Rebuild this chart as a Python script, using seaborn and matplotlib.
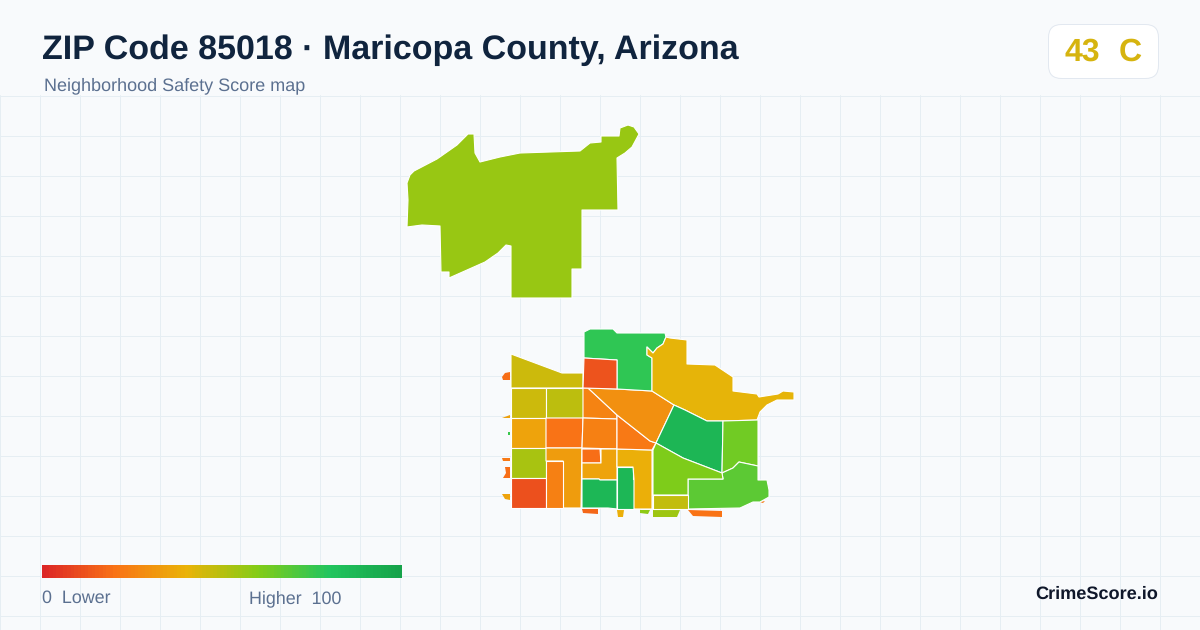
import matplotlib
matplotlib.use("Agg")
import matplotlib.pyplot as plt
from matplotlib.collections import PolyCollection
from matplotlib.colors import Normalize
from matplotlib.patches import FancyBboxPatch
import numpy as np
import seaborn as sns

# Text
title = "ZIP Code 85018 · Maricopa County, Arizona"
subtitle = "Neighborhood Safety Score map"
badge_score = "43"
badge_grade = "C"
brand = "CrimeScore.io"
legend_low = "0  Lower"
legend_high = "Higher  100"

# Score colour scale
scale_min, scale_max = 0, 100
scale_colors = ["#dc2626", "#f97316", "#eab308", "#84cc16", "#22c55e", "#16a34a"]

# Tract outlines
north_outlines = [
    [(407, 227), (408, 200), (407, 183), (410, 175), (414, 171), (437, 159), (457, 145), (468, 134), (474, 134),
     (475, 153), (480, 162), (500, 157), (520, 153), (580, 151), (590, 143), (601, 142), (601, 136),
     (619, 136), (620, 128), (628, 125), (634, 127), (639, 134), (632, 147), (625, 153), (617, 158), (618, 210),
     (582, 210), (582, 269), (572, 269), (572, 298), (511, 298), (511, 246), (506, 245), (498, 253),
     (485, 262), (449, 278), (449, 272), (441, 272), (440, 226), (422, 225)],
]
north_scores = [56]

south_outlines = [
    [(511, 354), (562, 373), (583, 373), (583, 388), (511, 388)],
    [(511, 388), (546, 388), (546, 418), (511, 418)],
    [(546, 388), (583, 388), (583, 418), (546, 418)],
    [(511, 418), (546, 418), (546, 448), (511, 448)],
    [(546, 418), (583, 418), (582, 448), (546, 448)],
    [(511, 448), (546, 448), (546, 478), (511, 478)],
    [(511, 478), (546, 478), (546, 508), (511, 508)],
    [(546, 448), (582, 448), (581, 508), (563, 508), (563, 461), (546, 461)],
    [(546, 461), (563, 461), (563, 508), (546, 508)],
    [(583, 388), (588, 388), (617, 415), (617, 419), (583, 418)],
    [(583, 418), (617, 419), (617, 449), (582, 448)],
    [(582, 449), (600, 449), (601, 463), (582, 463)],
    [(582, 463), (601, 463), (601, 449), (617, 449), (617, 480), (600, 480), (599, 479), (582, 479)],
    [(582, 479), (599, 479), (600, 480), (617, 480), (617, 509), (608, 508), (582, 508)],
    [(617, 467), (633, 467), (633, 479), (634, 479), (634, 509), (617, 509)],
    [(617, 449), (652, 450), (652, 509), (634, 509), (634, 479), (633, 467), (617, 467)],
    [(617, 415), (650, 441), (656, 443), (652, 450), (617, 449)],
    [(588, 388), (617, 389), (652, 391), (674, 405), (656, 443), (650, 441), (617, 415)],
    [(584, 332), (590, 329), (613, 329), (617, 333), (665, 333), (666, 337), (663, 344), (657, 348),
     (653, 353), (647, 347), (647, 355), (652, 358), (652, 391), (617, 389), (617, 360), (584, 358)],
    [(584, 358), (617, 360), (617, 389), (583, 388)],
    [(666, 337), (670, 338), (687, 340), (687, 364), (715, 365), (733, 377), (733, 391), (757, 394),
     (759, 397), (778, 394), (783, 391), (794, 392), (794, 400), (777, 400), (767, 405), (760, 412),
     (757, 420), (723, 421), (707, 421), (685, 410), (674, 405), (652, 391), (652, 358), (647, 355),
     (647, 347), (653, 353), (657, 348), (663, 344)],
    [(674, 405), (685, 410), (707, 421), (723, 421), (722, 473), (683, 458), (656, 443)],
    [(723, 421), (758, 420), (758, 466), (739, 462), (733, 468), (722, 473)],
    [(722, 473), (733, 468), (739, 462), (758, 466), (758, 480), (767, 480), (769, 490), (769, 497), (760, 502),
     (753, 502), (740, 508), (688, 509), (688, 479), (723, 479)],
    [(656, 443), (683, 458), (722, 473), (723, 479), (688, 479), (688, 495), (653, 495), (653, 450)],
    [(653, 495), (688, 495), (688, 509), (653, 509)],
]
south_scores = [46, 46, 49, 35, 20, 53, 11, 33, 24, 25, 24, 19, 35, 88, 88, 39, 22, 29, 77, 12, 41, 89, 64, 68, 61, 48]

# Slivers of tracts at the edge of the ZIP
sliver_outlines = [
    [(653, 510), (680, 510), (677, 517), (653, 517)],
    [(688, 510), (722, 511), (722, 517), (693, 516)],
    [(640, 510), (650, 510), (648, 514), (640, 513)],
    [(582, 509), (598, 509), (598, 514), (583, 513)],
    [(617, 510), (624, 510), (623, 517), (618, 517)],
    [(502, 377), (505, 373), (510, 372), (510, 380), (503, 380)],
    [(502, 418), (510, 415), (510, 418)],
    [(502, 458), (510, 458), (510, 461), (503, 461)],
    [(505, 467), (510, 467), (510, 478), (503, 478), (506, 473)],
    [(502, 494), (510, 494), (510, 500), (505, 499)],
    [(508, 432), (510, 432), (510, 435), (508, 435)],
    [(760, 502), (765, 501), (763, 503)],
]
sliver_scores = [55, 20, 58, 17, 39, 19, 34, 22, 19, 35, 75, 22]

sns.set_theme(style="white")
plt.rcParams["font.family"] = ["Liberation Sans", "DejaVu Sans"]
plt.rcParams["text.hinting"] = "no_hinting"

score_cmap = sns.blend_palette(scale_colors, as_cmap=True)
score_norm = Normalize(scale_min, scale_max)

fig = plt.figure(figsize=(12, 6.3), dpi=100, facecolor="#f8fafc")

# Map area, with the light grid below the header
ax = fig.add_axes([0, 0, 1, (630 - 95) / 630])
ax.set_facecolor("#f8fafc")
ax.set_xlim(0, 1200)
ax.set_ylim(630, 95)
ax.set_xticks(np.arange(0, 1200, 40))
ax.set_yticks(np.arange(96, 630, 40))
ax.tick_params(length=0, labelbottom=False, labelleft=False)
ax.grid(True, color="#e6eef3", linewidth=0.72)
ax.set_axisbelow(True)
sns.despine(ax=ax, left=True, bottom=True, top=True)

# Slivers have no outline, a white edge would eat them
ax.add_collection(PolyCollection(sliver_outlines, array=np.array(sliver_scores), cmap=score_cmap,
                                 norm=score_norm, linewidths=0))
tracts = PolyCollection(north_outlines + south_outlines, array=np.array(north_scores + south_scores),
                        cmap=score_cmap, norm=score_norm, edgecolors="#ffffff", linewidths=0.8)
ax.add_collection(tracts)

# Header, badge and legend text are placed in pixels
over = fig.add_axes([0, 0, 1, 1])
over.set_xlim(0, 1200)
over.set_ylim(630, 0)
over.axis("off")

over.text(42, 59, title, fontsize=24.5, fontweight="bold", color="#10243e", va="baseline")
over.text(44, 90, subtitle, fontsize=13, color="#5b7090", va="baseline")

badge = FancyBboxPatch((1048.5, 24.5), 110, 54, boxstyle="round,pad=0,rounding_size=13",
                       facecolor="#ffffff", edgecolor="#e2e8f0", linewidth=0.72)
over.add_patch(badge)
over.text(1065, 61, badge_score, fontsize=23, fontweight="bold", color="#d6b40f", va="baseline")
over.text(1119, 61, badge_grade, fontsize=23, fontweight="bold", color="#d6b40f", va="baseline")

over.text(42, 603, legend_low, fontsize=12.9, color="#5b7090", va="baseline")
over.text(249, 603, legend_high, fontsize=12.9, color="#5b7090", va="baseline")
over.text(1158, 599, brand, fontsize=13.1, fontweight="bold", color="#0f172a", va="baseline", ha="right")

# Colour scale bar
legend_ax = fig.add_axes([42 / 1200, 1 - 578 / 630, 360 / 1200, 13 / 630])
legend_ramp = np.arange(scale_min, scale_max + 1).reshape(1, -1)
sns.heatmap(legend_ramp, cmap=score_cmap, norm=score_norm, cbar=False,
            xticklabels=False, yticklabels=False, ax=legend_ax)

fig.savefig("out.png", dpi=100, facecolor=fig.get_facecolor())
